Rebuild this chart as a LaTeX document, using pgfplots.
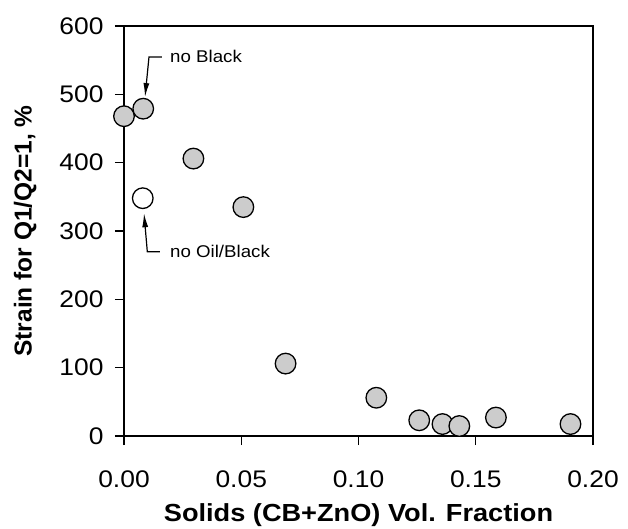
\documentclass[border=0pt]{standalone}
\usepackage{fontspec}
\setmainfont{Liberation Sans}[FakeStretch=1.1]
\newfontfamily\ylabfont{Liberation Sans}
\usepackage{pgfplots}
\pgfplotsset{compat=1.18}
\usetikzlibrary{arrows.meta}
\begin{document}
\begin{tikzpicture}
\path[use as bounding box] (-124pt,-92pt) rectangle (504pt,436pt);
\begin{axis}[
  scale only axis,
  width=469pt, height=410pt,
  xmin=0, xmax=0.2, ymin=0, ymax=600,
  axis line style={line width=2.6pt},
  every tick/.style={black, line width=1.2pt},
  tick align=outside,
  major tick length=9pt,
  xtick={0,0.05,0.1,0.15,0.2},
  ytick={0,100,200,300,400,500,600},
  xtick pos=bottom, ytick pos=left,
  /pgf/number format/assume math mode=true,
  xticklabel style={/pgf/number format/fixed,/pgf/number format/fixed zerofill,/pgf/number format/precision=2, yshift=-22pt},
  yticklabel style={xshift=-8pt},
  tick label style={font=\fontsize{24}{28}\selectfont},
  xlabel={Solids (CB+ZnO) Vol. Fraction},
  ylabel={Strain for Q1/Q2=1, \%},
  xlabel style={font=\fontsize{24.7}{28}\selectfont\bfseries, yshift=-9pt},
  ylabel style={font=\fontsize{24.5}{28}\ylabfont\bfseries, yshift=16pt},
  clip=false,
]
\addplot[only marks, mark=*, mark size=10.3pt, mark options={draw=black, line width=1.3pt, fill=black!20}] coordinates {
 (0.000,468) (0.0082,479) (0.0296,406) (0.0509,335) (0.0689,106)
 (0.1076,56) (0.1259,23) (0.1358,17.5) (0.1430,14.6) (0.1586,27) (0.1904,17.5)
};
\addplot[only marks, mark=*, mark size=10.3pt, mark options={draw=black, line width=1.3pt, fill=white}] coordinates {
 (0.0080,348)
};
\draw[line width=1.2pt, -{Latex[length=14pt,width=6pt]}] (axis cs:0.0162,554.7) -- (axis cs:0.01066,554.7) -- (axis cs:0.00896,496);
\draw[line width=1.2pt, -{Latex[length=14pt,width=6pt]}] (axis cs:0.01535,269.7) -- (axis cs:0.00994,269.7) -- (axis cs:0.00853,326);
\node[anchor=west, font=\fontsize{17}{20}\selectfont, inner sep=0pt] at (axis cs:0.0196,555) {no Black};
\node[anchor=west, font=\fontsize{17}{20}\selectfont, inner sep=0pt] at (axis cs:0.0196,270.7) {no Oil/Black};
\end{axis}
\end{tikzpicture}
\end{document}
